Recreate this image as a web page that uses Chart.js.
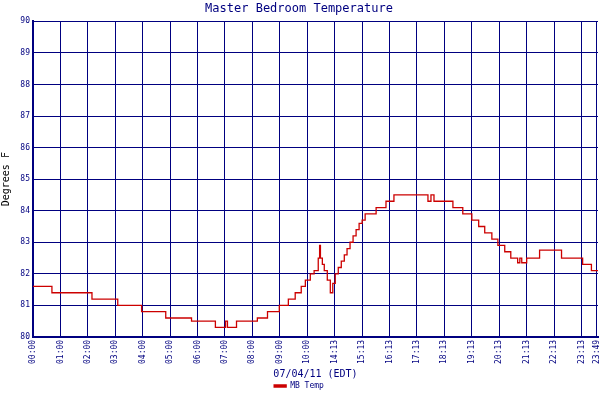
<!DOCTYPE html>
<html>
<head>
<meta charset="utf-8">
<script src="https://cdn.jsdelivr.net/npm/chart.js@4/dist/chart.umd.min.js"></script>
<style>
  html, body { margin: 0; padding: 0; background: #fff; }
  #wrap { width: 600px; height: 400px; }
</style>
</head>
<body>
<div id="wrap"><canvas id="c"></canvas></div>
<script>
/* tick labels on the x axis (evenly spaced slots, last one is partial) */
const tickLabels = ["00:00","01:00","02:00","03:00","04:00","05:00","06:00","07:00","08:00","09:00","10:00",
  "14:13","15:13","16:13","17:13","18:13","19:13","20:13","21:13","22:13","23:13","23:49"];
const tickSlots = [0,1,2,3,4,5,6,7,8,9,10,11,12,13,14,15,16,17,18,19,20,20.55];

/* step changes: slot position where each reading starts, and the reading */
const stepSlots = [0,0.69,2.15,3.09,3.96,4.84,5.78,6.65,7.02,7.09,7.42,8.18,8.55,8.98,9.31,9.56,9.78,9.93,
  10.11,10.25,10.4,10.45,10.48,10.55,10.62,10.73,10.84,10.93,11.02,11.13,11.24,11.35,11.45,11.56,11.67,11.78,
  11.89,12.0,12.11,12.51,12.87,13.16,14.4,14.51,14.62,15.31,15.67,16.0,16.25,16.47,16.73,16.95,17.2,17.42,
  17.67,17.75,17.82,18.0,18.47,19.27,20.04,20.36,20.6];
const mbTemp = [81.6,81.4,81.2,81.0,80.8,80.6,80.5,80.3,80.5,80.3,80.5,80.6,80.8,81.0,81.2,81.4,81.6,81.8,
  82.0,82.1,82.5,82.9,82.5,82.3,82.1,81.8,81.4,81.7,82.0,82.2,82.4,82.6,82.8,83.0,83.2,83.4,
  83.6,83.7,83.9,84.1,84.3,84.5,84.3,84.5,84.3,84.1,83.9,83.7,83.5,83.3,83.1,82.9,82.7,82.5,
  82.35,82.5,82.35,82.5,82.75,82.5,82.3,82.1,82.1];

const navy = "#000080";
const mono = "'DejaVu Sans Mono', monospace";

new Chart(document.getElementById("c"), {
  type: "line",
  data: {
    datasets: [{
      label: "MB Temp",
      data: stepSlots.map((s, i) => ({ x: s, y: mbTemp[i] })),
      borderColor: "#cc0000",
      backgroundColor: "#cc0000",
      borderWidth: 1.3,
      pointRadius: 0,
      stepped: "before"
    }]
  },
  options: {
    responsive: true,
    maintainAspectRatio: false,
    animation: false,
    layout: { padding: { left: 0, right: 2, top: 0, bottom: 0 } },
    plugins: {
      title: {
        display: true,
        text: "Master Bedroom Temperature",
        color: navy,
        font: { family: mono, size: 12, weight: "normal" },
        padding: { top: 2, bottom: 5 }
      },
      legend: {
        position: "bottom",
        labels: {
          color: navy,
          font: { family: mono, size: 8 },
          boxWidth: 12, boxHeight: 2,
          padding: 2
        }
      },
      tooltip: { enabled: false }
    },
    scales: {
      x: {
        type: "linear",
        min: 0, max: 20.6,
        afterBuildTicks: ax => { ax.ticks = tickSlots.map(v => ({ value: v })); },
        ticks: {
          autoSkip: false,
          minRotation: 90, maxRotation: 90,
          color: navy,
          font: { family: mono, size: 8 },
          padding: 3,
          callback: (v, i) => tickLabels[i]
        },
        grid: { color: navy, lineWidth: 1, drawTicks: false },
        border: { color: navy, width: 2 },
        title: {
          display: true, text: "07/04/11 (EDT)", color: navy,
          font: { family: mono, size: 10 }, padding: { top: 1, bottom: 0 }
        },
        afterFit: ax => { ax.paddingRight = 0; ax.paddingLeft = 0; }
      },
      y: {
        min: 80, max: 90,
        ticks: {
          stepSize: 1, color: navy,
          font: { family: mono, size: 8 }, padding: 3
        },
        grid: { color: navy, lineWidth: 1, drawTicks: false },
        border: { color: navy, width: 2 },
        title: {
          display: true, text: "Degrees F", color: "#000",
          font: { family: mono, size: 10 }, padding: { top: 0, bottom: 0 }
        },
        afterFit: ax => { ax.width = 33; }
      }
    }
  }
});
</script>
</body>
</html>
